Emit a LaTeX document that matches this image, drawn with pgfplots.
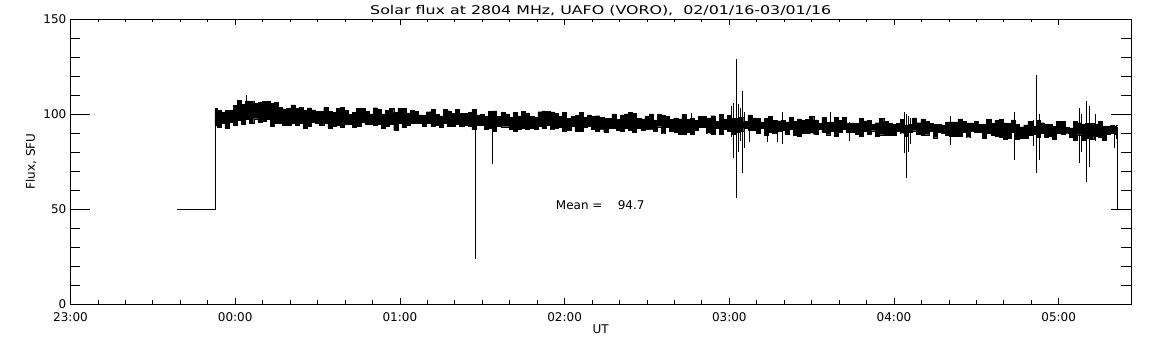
\documentclass[border=0pt]{standalone}
\usepackage{fontspec}
\setmainfont{DejaVu Sans}
\newfontfamily\titlefont[FakeStretch=1.32]{DejaVu Sans}
\usepackage{pgfplots}
\usepackage{pgfplotstable}
\usepgfplotslibrary{fillbetween}
\pgfplotsset{compat=1.18}
% t (hours after 00:00 UT), upper and lower envelope of the flux trace (SFU)
\pgfplotstableread{
t U L
-0.123 103.0 94.0
-0.100 101.9 92.8
-0.075 100.9 94.9
-0.050 101.8 92.6
-0.025 101.9 95.9
0.000 104.7 94.0
0.025 107.1 96.8
0.050 105.0 94.4
0.075 106.9 97.4
0.100 106.7 95.2
0.125 105.6 97.5
0.150 106.0 95.8
0.175 106.8 96.0
0.200 106.8 97.3
0.225 105.7 93.6
0.250 106.1 95.1
0.275 103.4 95.3
0.300 102.7 94.0
0.325 102.9 94.3
0.350 104.8 95.0
0.375 103.0 94.0
0.400 103.6 95.1
0.425 101.8 92.6
0.450 103.2 93.4
0.475 102.2 95.7
0.500 101.5 95.2
0.525 101.4 93.9
0.550 103.4 95.1
0.575 101.3 92.7
0.600 100.9 93.4
0.625 102.9 94.2
0.650 103.6 93.0
0.675 102.0 94.5
0.700 99.9 94.5
0.725 100.7 92.9
0.750 103.1 93.6
0.775 103.0 95.6
0.800 101.4 94.8
0.825 100.1 94.7
0.850 103.3 93.9
0.875 102.4 94.7
0.900 100.0 92.6
0.925 102.0 93.4
0.950 103.1 94.6
0.975 100.7 91.7
1.000 103.0 95.3
1.025 103.0 92.9
1.050 100.6 94.0
1.075 102.1 95.2
1.100 101.3 95.2
1.125 99.6 95.1
1.150 99.2 93.5
1.175 101.2 95.1
1.200 102.3 93.4
1.225 99.9 94.2
1.250 99.0 93.0
1.275 102.6 94.9
1.300 101.7 93.7
1.325 100.5 93.7
1.350 102.5 94.8
1.375 100.4 93.6
1.400 100.4 94.0
1.425 100.7 93.5
1.450 102.3 91.9
1.475 99.5 93.9
1.500 99.8 93.9
1.525 98.6 91.8
1.550 101.3 92.6
1.575 101.7 91.0
1.600 98.8 93.7
1.625 100.8 93.3
1.650 100.0 93.3
1.675 98.3 92.0
1.700 100.7 90.8
1.725 99.0 92.0
1.750 101.4 92.7
1.775 100.6 91.9
1.800 98.9 92.7
1.825 98.1 92.2
1.850 101.2 93.4
1.875 101.6 92.6
1.900 101.5 94.1
1.925 101.1 92.1
1.950 100.3 92.5
1.975 98.6 93.2
2.000 101.0 90.8
2.025 97.7 91.6
2.050 98.9 93.5
2.075 99.3 91.1
2.100 100.8 90.7
2.125 98.4 93.0
2.150 99.5 93.4
2.175 98.7 92.2
2.200 99.1 90.9
2.225 98.2 92.1
2.250 97.8 90.5
2.275 97.7 92.4
2.300 100.1 92.4
2.325 97.2 91.6
2.350 99.6 90.7
2.375 100.0 92.7
2.400 100.7 91.5
2.425 100.3 90.6
2.450 97.8 92.6
2.475 97.4 91.4
2.500 98.6 92.2
2.525 100.1 92.1
2.550 96.9 90.9
2.575 100.0 93.3
2.600 99.2 90.0
2.625 98.7 93.2
2.650 97.1 90.8
2.675 97.9 90.3
2.700 97.4 89.5
2.725 99.8 89.5
2.750 97.3 90.6
2.775 97.7 89.4
2.800 96.5 91.4
2.825 98.8 92.9
2.850 98.8 92.9
2.875 97.9 90.1
2.900 99.1 89.6
2.925 96.2 92.4
2.950 99.8 89.6
2.975 97.4 91.9
3.000 99.3 90.7
3.025 97.7 89.5
3.050 97.6 90.2
3.075 98.4 91.0
3.100 96.0 92.6
3.125 99.5 91.3
3.150 97.9 91.3
3.175 97.8 89.7
3.200 95.8 92.4
3.225 97.8 88.8
3.250 98.9 90.4
3.275 96.5 89.9
3.300 96.4 90.7
3.325 96.8 91.5
3.350 95.9 89.4
3.375 98.3 92.2
3.400 96.3 88.6
3.425 97.4 88.5
3.450 96.6 89.7
3.475 97.3 89.7
3.500 98.9 90.1
3.525 96.9 89.2
3.550 95.2 92.0
3.575 98.4 90.4
3.600 95.5 89.1
3.625 95.9 90.7
3.650 98.2 88.3
3.675 96.6 90.2
3.700 98.2 91.8
3.725 95.3 90.2
3.750 95.3 90.5
3.775 95.2 89.3
3.800 97.6 88.1
3.825 96.4 90.8
3.850 96.7 89.2
3.875 94.7 91.2
3.900 95.4 88.3
3.925 97.8 89.1
3.950 96.1 88.7
3.975 94.9 89.0
4.000 94.5 88.6
4.025 95.2 91.0
4.050 97.2 90.1
4.075 94.3 88.5
4.100 94.7 90.5
4.125 97.9 91.2
4.150 95.4 89.2
4.175 97.4 88.8
4.200 96.1 89.1
4.225 94.9 91.1
4.250 94.4 87.5
4.275 94.4 90.2
4.300 94.0 89.8
4.325 95.9 88.6
4.350 95.9 88.1
4.375 95.8 88.5
4.400 97.4 88.5
4.425 96.2 90.4
4.450 95.3 88.0
4.475 95.3 90.8
4.500 96.0 90.4
4.525 94.4 90.3
4.550 94.4 87.1
4.575 97.1 89.9
4.600 95.1 89.0
4.625 96.6 88.2
4.650 97.0 87.8
4.675 95.3 86.9
4.700 94.9 87.3
4.725 96.9 90.5
4.750 94.4 86.8
4.775 93.2 87.2
4.800 94.3 87.2
4.825 96.3 88.7
4.850 93.5 89.5
4.875 96.6 87.9
4.900 95.4 89.8
4.925 94.5 87.8
4.950 94.5 88.2
4.975 93.6 86.9
5.000 96.0 89.7
5.025 96.0 89.3
5.050 93.1 90.0
5.075 92.7 87.6
5.100 96.2 86.4
5.125 95.4 89.1
5.150 94.6 86.3
5.175 94.9 87.1
5.200 94.9 86.6
5.225 94.4 88.2
5.250 96.0 87.8
5.275 93.5 86.1
5.300 93.5 89.3
5.325 93.9 89.7
5.350 93.8 89.6
5.354 94.0 87.5
}\band
\begin{document}
\fontsize{12}{14}\selectfont
\begin{tikzpicture}
\pgfplotsset{
  common/.style={
    name=#1,
    at={(0,0)}, anchor=south west,
    width=1060.5pt, height=285pt, scale only axis,
    xmin=-1, xmax=5.439, ymin=0, ymax=150,
    tick align=inside,
    axis line style={line width=0.9pt},
    every tick/.style={line width=0.8pt, black},
    /pgf/number format/assume math mode=true,
    tick label style={font=\fontsize{12}{14}\selectfont},
  }
}
\begin{axis}[common=ax1,
  xtick=\empty,
  ytick={0,50,100,150}, yticklabels={0,50,100,150},
  minor y tick num=4,
  major tick length=20pt, minor tick length=10pt,
  yticklabel style={anchor=east, inner sep=0pt, xshift=-4pt},
  ylabel={Flux, SFU},
  ylabel style={at={(axis description cs:-0.0335,0.5)}, anchor=base, inner sep=0pt, rotate=0},
  unbounded coords=jump,
]
% start / end segments
\addplot[black, line width=0.8pt] coordinates {(-0.353,50) (-0.123,50) (-0.123,103)};
\addplot[black, line width=0.8pt] coordinates {(5.354,93) (5.354,50)};
% noise band
\addplot[name path=up, black, line width=0.4pt, const plot mark mid] table[x=t, y=U] {\band};
\addplot[name path=lo, black, line width=0.4pt, const plot mark mid] table[x=t, y=L] {\band};
\addplot[black] fill between[of=up and lo];
% spikes
\addplot[black, line width=0.8pt] coordinates {
(0.066,110) (0.066,100) (0.067,nan)
(1.460,97) (1.460,23.5) (1.461,nan)
(1.561,97) (1.561,73.6) (1.562,nan)
(2.77,100.5) (2.77,95) (2.771,nan)
(3.01,104) (3.01,88) (3.011,nan)
(3.025,106) (3.025,77) (3.026,nan)
(3.045,129) (3.045,56) (3.046,nan)
(3.055,105) (3.055,80) (3.056,nan)
(3.065,103) (3.065,86) (3.066,nan)
(3.079,112) (3.079,69) (3.080,nan)
(3.09,101) (3.09,82) (3.091,nan)
(3.12,99) (3.12,85) (3.121,nan)
(3.23,97) (3.23,85) (3.231,nan)
(3.29,97) (3.29,85) (3.291,nan)
(3.324,101) (3.324,84) (3.325,nan)
(3.611,101) (3.611,90) (3.612,nan)
(3.727,96) (3.727,86) (3.728,nan)
(4.061,101) (4.061,79.5) (4.062,nan)
(4.073,100) (4.073,66.5) (4.074,nan)
(4.09,99) (4.09,80) (4.091,nan)
(4.10,98) (4.10,84) (4.101,nan)
(4.34,99) (4.34,83.5) (4.341,nan)
(4.729,101) (4.729,76) (4.730,nan)
(4.844,97) (4.844,83) (4.845,nan)
(4.862,120.5) (4.862,69) (4.863,nan)
(4.880,100) (4.880,75.8) (4.881,nan)
(5.124,103) (5.124,74) (5.125,nan)
(5.14,100) (5.14,80) (5.141,nan)
(5.170,107) (5.170,64) (5.171,nan)
(5.184,104) (5.184,72) (5.185,nan)
(5.22,100) (5.22,86) (5.221,nan)
(5.34,93) (5.34,82)
};
\node[anchor=base west, inner sep=0pt] at (axis cs:1.946,49.8) {Mean =};
\node[anchor=base west, inner sep=0pt] at (axis cs:2.322,49.8) {94.7};
\end{axis}
\begin{axis}[common=ax2,
  clip=false,
  ytick=\empty,
  xtick={-1,0,1,2,3,4,5},
  xticklabels={23:00,00:00,01:00,02:00,03:00,04:00,05:00},
  minor x tick num=5,
  major tick length=6pt, minor tick length=3.5pt,
  xticklabel style={anchor=north, inner sep=0pt, yshift=-8pt},
  xlabel={UT},
  xlabel style={at={(axis description cs:0.5,-0.0737)}, anchor=north, inner sep=0pt},
]
\node[anchor=base, inner sep=0pt, font=\titlefont\fontsize{12}{14}\selectfont]
  at (rel axis cs:0.5,1.0158) {Solar flux at 2804 MHz, UAFO (VORO),\ \ 02/01/16-03/01/16};
\end{axis}
\pgfresetboundingbox
\path[use as bounding box] ([shift={(-70.5pt,-41pt)}]ax1.south west) rectangle ([shift={(21pt,19pt)}]ax1.north east);
\end{tikzpicture}
\end{document}
